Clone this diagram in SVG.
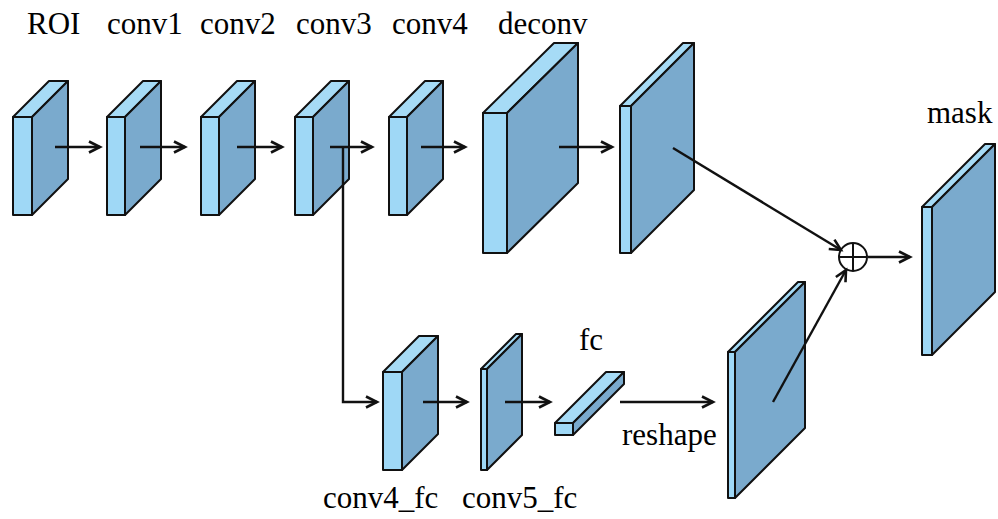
<svg xmlns="http://www.w3.org/2000/svg" width="998" height="519" viewBox="0 0 998 519">
  <style>
    .front { fill: #9fd8f6; stroke: #111; stroke-width: 2; stroke-linejoin: round; }
    .top { fill: #a6dbf6; stroke: #111; stroke-width: 2; stroke-linejoin: round; }
    .side { fill: #7aaacd; stroke: #111; stroke-width: 2; stroke-linejoin: round; }
    .lbl { font-family: "Liberation Serif", "Times New Roman", serif; font-size: 31px; fill: #000; }
    .link { fill: none; stroke: #111; stroke-width: 2.4; }
    .arrow { marker-end: url(#head); }
  </style>
  <defs>
    <marker id="head" markerUnits="userSpaceOnUse" markerWidth="16" markerHeight="16" refX="13" refY="7" orient="auto">
      <path d="M2,1.5 L13,7 L2,12.5" fill="none" stroke="#111" stroke-width="2.6" stroke-linejoin="miter"/>
    </marker>
  </defs>
  <rect width="998" height="519" fill="#ffffff"/>

  <!-- top row: feature maps -->
  <g id="roi">
    <rect class="front" x="13" y="117" width="19" height="98"/>
    <polygon class="top" points="13,117 32,117 68,81 49,81"/>
    <polygon class="side" points="32,117 68,81 68,179 32,215"/>
    <text class="lbl" x="27" y="34">ROI</text>
  </g>
  <g id="conv1">
    <rect class="front" x="107" y="117" width="18" height="98"/>
    <polygon class="top" points="107,117 125,117 161,81 143,81"/>
    <polygon class="side" points="125,117 161,81 161,179 125,215"/>
    <text class="lbl" x="107" y="34">conv1</text>
  </g>
  <g id="conv2">
    <rect class="front" x="201" y="117" width="18" height="98"/>
    <polygon class="top" points="201,117 219,117 255,81 237,81"/>
    <polygon class="side" points="219,117 255,81 255,179 219,215"/>
    <text class="lbl" x="200" y="34">conv2</text>
  </g>
  <g id="conv3">
    <rect class="front" x="295" y="117" width="18" height="98"/>
    <polygon class="top" points="295,117 313,117 349,81 331,81"/>
    <polygon class="side" points="313,117 349,81 349,179 313,215"/>
    <text class="lbl" x="296" y="34">conv3</text>
  </g>
  <g id="conv4">
    <rect class="front" x="389" y="117" width="18" height="98"/>
    <polygon class="top" points="389,117 407,117 443,81 425,81"/>
    <polygon class="side" points="407,117 443,81 443,179 407,215"/>
    <text class="lbl" x="392" y="34">conv4</text>
  </g>
  <g id="deconv">
    <rect class="front" x="483" y="113" width="24" height="140"/>
    <polygon class="top" points="483,113 507,113 578,43 554,43"/>
    <polygon class="side" points="507,113 578,43 578,183 507,253"/>
    <text class="lbl" x="498" y="34">deconv</text>
  </g>
  <g id="deconv_out">
    <rect class="front" x="620" y="106" width="11" height="147"/>
    <polygon class="top" points="620,106 631,106 694,43 683,43"/>
    <polygon class="side" points="631,106 694,43 694,190 631,253"/>
  </g>
  <g id="mask">
    <rect class="front" x="922" y="207" width="10" height="148"/>
    <polygon class="top" points="922,207 932,207 995,144 985,144"/>
    <polygon class="side" points="932,207 995,144 995,292 932,355"/>
    <text class="lbl" x="927" y="123">mask</text>
  </g>

  <!-- bottom branch -->
  <g id="conv4_fc">
    <rect class="front" x="383" y="372" width="19" height="98"/>
    <polygon class="top" points="383,372 402,372 438,336 419,336"/>
    <polygon class="side" points="402,372 438,336 438,434 402,470"/>
    <text class="lbl" x="323" y="508">conv4_fc</text>
  </g>
  <g id="conv5_fc">
    <rect class="front" x="481" y="369" width="6" height="101"/>
    <polygon class="top" points="481,369 487,369 522,334 516,334"/>
    <polygon class="side" points="487,369 522,334 522,435 487,470"/>
    <text class="lbl" x="462" y="508">conv5_fc</text>
  </g>
  <g id="fc">
    <rect class="front" x="555" y="423" width="18" height="12"/>
    <polygon class="top" points="555,423 573,423 624,372 606,372"/>
    <polygon class="side" points="573,423 624,372 624,384 573,435"/>
    <text class="lbl" x="579" y="350">fc</text>
  </g>
  <g id="reshape">
    <rect class="front" x="728" y="352" width="7" height="146"/>
    <polygon class="top" points="728,352 735,352 805,282 798,282"/>
    <polygon class="side" points="735,352 805,282 805,428 735,498"/>
    <text class="lbl" x="622" y="445">reshape</text>
  </g>
  <g id="sum">
    <circle cx="853" cy="257" r="14" fill="#ffffff" stroke="#111" stroke-width="2"/>
    <line x1="839" y1="257" x2="867" y2="257" stroke="#111" stroke-width="2"/>
    <line x1="853" y1="243" x2="853" y2="271" stroke="#111" stroke-width="2"/>
  </g>

  <!-- connectors -->
  <g id="connectors">
    <line class="link arrow" x1="55" y1="147" x2="100" y2="147"/>
    <line class="link arrow" x1="140" y1="147" x2="185" y2="147"/>
    <line class="link arrow" x1="237" y1="147" x2="282" y2="147"/>
    <line class="link arrow" x1="330" y1="147" x2="372" y2="147"/>
    <line class="link arrow" x1="421" y1="147" x2="465" y2="147"/>
    <line class="link arrow" x1="559" y1="147" x2="612" y2="147"/>
    <polyline class="link arrow" points="343,147 343,402 377,402"/>
    <line class="link arrow" x1="423" y1="402" x2="467" y2="402"/>
    <line class="link arrow" x1="505" y1="402" x2="550" y2="402"/>
    <line class="link arrow" x1="620" y1="402" x2="713" y2="402"/>
    <line class="link arrow" x1="673" y1="148" x2="841" y2="250"/>
    <line class="link arrow" x1="773" y1="402" x2="846" y2="270"/>
    <line class="link arrow" x1="868" y1="257" x2="910" y2="257"/>
  </g>
</svg>
